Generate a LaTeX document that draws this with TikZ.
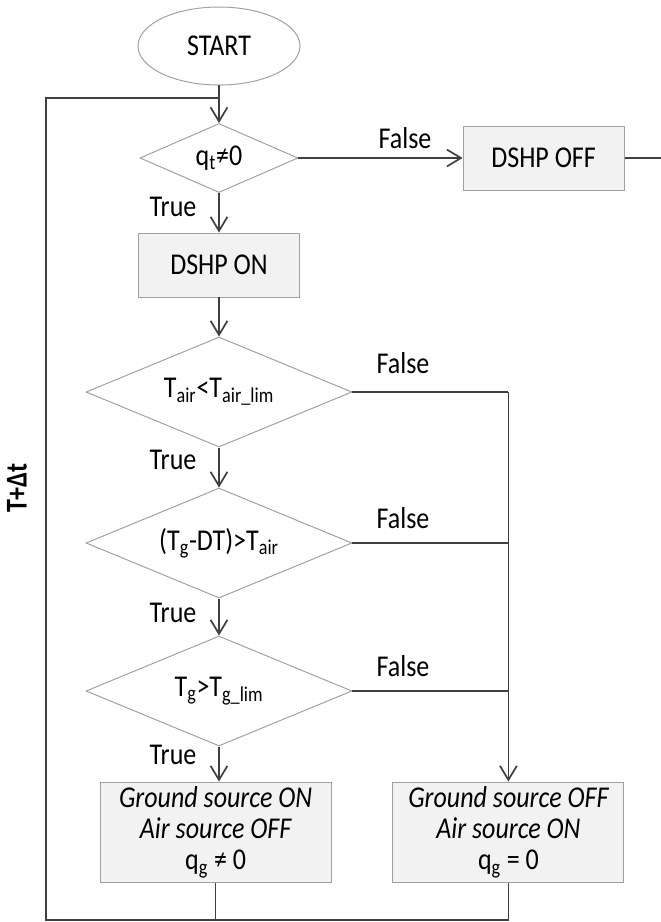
\documentclass[tikz,border=0pt]{standalone}
\usepackage{fontspec}
\setmainfont{Carlito}[FakeStretch=0.86]
\usetikzlibrary{
  arrows.meta,
  positioning,
  shapes.geometric,
}
\definecolor{wire}{HTML}{404040}
\definecolor{rim}{HTML}{A0A0A0}
\definecolor{boxfill}{HTML}{F2F2F2}
\tikzset{
  >={Straight Barb[length=10pt,width=12pt]},
  wire/.style={draw=wire, line width=1.2pt},
  terminal/.style={ellipse, draw=rim, line width=0.7pt,
    minimum width=4.05cm, minimum height=1.95cm},
  test/.style={diamond, draw=rim, line width=0.7pt, inner sep=0pt,
    aspect=2.3, minimum width=3.95cm, minimum height=1.725cm},
  bigtest/.style={test, aspect=2.4, minimum width=6.65cm, minimum height=2.75cm},
  action/.style={rectangle, draw=rim, fill=boxfill, line width=0.7pt,
    minimum width=4.025cm, minimum height=1.6cm},
  outcome/.style={action, align=center, minimum width=5.775cm,
    minimum height=2.5cm, inner sep=2pt},
}

\begin{document}
\begin{tikzpicture}[font=\fontsize{21.5}{22.2}\selectfont]
  \useasboundingbox (0,0) rectangle (16.525,-23.05);

  \node [terminal] (start) at (5.475,-1.15) {START};
  \node [test] (qt) at (5.475,-3.95) {q\textsubscript{t}≠0};
  \node [action] (off) at (13.59,-3.95) {DSHP OFF};
  \node [action] (on) at (5.475,-6.625) {DSHP ON};
  \node [bigtest] (air) at (5.475,-9.8)
    {T\textsubscript{air}<T\textsubscript{air\_lim}};
  \node [bigtest] (dt) at (5.475,-13.575)
    {(T\textsubscript{g}-DT)>T\textsubscript{air}};
  \node [bigtest] (glim) at (5.475,-17.275)
    {T\textsubscript{g}>T\textsubscript{g\_lim}};
  \node [outcome] (gon) at (5.39,-20.8)
    {\itshape Ground source ON\\ \itshape Air source OFF\\ q\textsubscript{g} ≠ 0};
  \node [outcome] (goff) at (12.71,-20.8)
    {\itshape Ground source OFF\\ \itshape Air source ON\\ q\textsubscript{g} = 0};

  % branch labels
  \node (f1) at (10.125,-3.45) {False};
  \node (t1) at (4.325,-5.175) {True};
  \node (f2) at (10.075,-9.075) {False};
  \node (t2) at (4.325,-11.5) {True};
  \node (f3) at (10.075,-12.95) {False};
  \node (t3) at (4.325,-15.325) {True};
  \node (f4) at (10.075,-16.65) {False};
  \node (t4) at (4.325,-18.875) {True};
  \node [rotate=90, font=\fontsize{21.5}{22.2}\selectfont\bfseries] (tdt)
    at (0.425,-12.2) {T+Δt};

  \coordinate (exit) at (16.525,-3.95);
  \coordinate (join) at (5.475,-2.45);
  \coordinate (loop) at (1.15,-23.0);

  \draw [wire, ->] (start) -- (qt);
  \draw [wire, ->] (qt) -- (off);
  \draw [wire] (off) -- (exit);
  \draw [wire, ->] (qt) -- (on);
  \draw [wire, ->] (on) -- (air);
  \draw [wire, ->] (air) -- (dt);
  \draw [wire, ->] (dt) -- (glim);
  \draw [wire, ->] (glim) -- (glim.south |- gon.north);
  \draw [wire] (air) -- (air -| goff);
  \draw [wire, ->] (air -| goff) -- (goff);
  \draw [wire] (dt) -- (dt -| goff);
  \draw [wire] (glim) -- (glim -| goff);
  \draw [wire] (gon) -- (gon |- loop);
  \draw [wire] (goff) -- (goff |- loop) -- (loop) |- (join);
\end{tikzpicture}
\end{document}
